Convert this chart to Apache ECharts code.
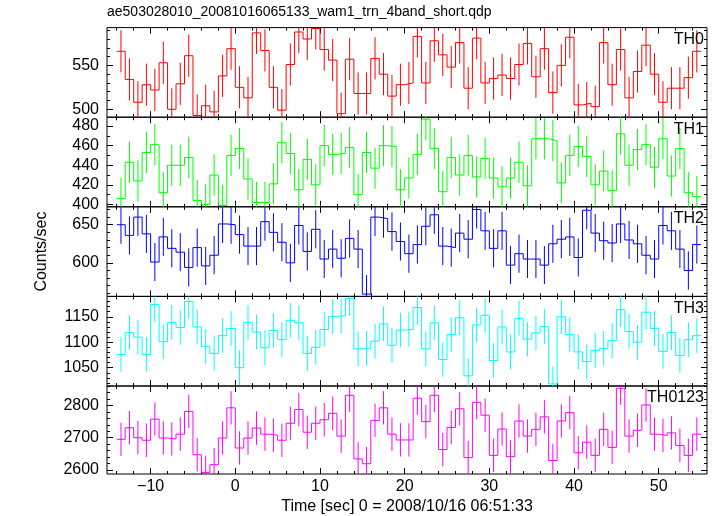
<!DOCTYPE html>
<html><head><meta charset="utf-8">
<script src="https://cdn.jsdelivr.net/npm/echarts@6/dist/echarts.min.js"></script>
<style>html,body{margin:0;padding:0;background:#fff}#c{width:717px;height:516px}</style>
</head><body><div id="c"></div>
<script>
const TITLE = 'ae503028010_20081016065133_wam1_trn_4band_short.qdp';
const X_NAME = 'Time [sec] 0 = 2008/10/16 06:51:33';
const Y_NAME = 'Counts/sec';
const panelNames = ['TH0', 'TH1', 'TH2', 'TH3', 'TH0123'];
const BIN_START = -14;
const BIN_WIDTH = 1;

const th0 = [566,534,508,528,522,553,500,529,561,493,504,497,538,569,525,513,587,567,525,499,551,588,580,592,568,556,495,557,518,518,558,540,515,528,530,
  583,530,578,562,548,576,524,581,530,535,539,535,551,575,537,569,519,550,582,505,507,503,576,528,568,513,543,573,540,508,524,524,536,566];
const th1 = [406,443,424,453,461,412,440,440,448,404,400,430,399,450,457,426,402,402,421,463,452,415,446,420,460,451,452,458,410,453,437,460,459,415,427,
  451,487,457,413,448,430,450,428,447,427,418,427,443,419,467,467,465,422,450,459,449,420,434,414,472,440,456,461,438,467,429,457,412,408];
const th2 = [650,636,660,638,601,634,619,614,594,620,596,610,651,650,637,622,622,654,640,627,600,649,615,644,605,618,606,632,618,559,660,658,641,628,612,
  624,648,663,622,620,639,631,670,642,619,642,597,612,605,605,597,625,631,634,607,669,639,629,626,651,630,625,610,605,649,642,618,590,624];
const th3 = [1076,1119,1110,1076,1174,1101,1139,1129,1180,1130,1092,1078,1113,1127,1050,1139,1120,1089,1123,1105,1143,1138,1078,1090,1125,1151,1152,1186,1087,1088,1102,1136,1094,1124,1125,
  1168,1087,1138,1066,1115,1148,1034,1134,1153,1064,1130,1081,1147,1106,1118,1131,1018,1150,1115,1081,1062,1084,1088,1103,1164,1121,1100,1159,1127,1082,1119,1074,1105,1113];
const th0123 = [2695,2731,2700,2692,2758,2699,2696,2711,2782,2647,2592,2616,2699,2793,2668,2699,2730,2711,2708,2692,2745,2788,2717,2745,2756,2776,2705,2832,2634,2619,2754,2793,2711,2693,2693,
  2823,2750,2832,2663,2732,2790,2638,2810,2770,2645,2727,2641,2752,2705,2726,2765,2629,2752,2778,2653,2686,2645,2726,2670,2854,2705,2723,2802,2711,2707,2715,2676,2645,2711];
const errHalf = [24, 21, 25, 34, 52];

const xMajorTicks = [-10, 0, 10, 20, 30, 40, 50];
const yMajorTicks = [[500, 550], [400, 420, 440, 460, 480], [600, 650], [1050, 1100, 1150], [2600, 2700, 2800]];
const yMinorStep = [10, 10, 10, 10, 20];
const xMinorStep = 2;

const panelData = [th0, th1, th2, th3, th0123];
const colors = ['#ff0000', '#00ff00', '#0000ff', '#00ffff', '#ff00ff'];
const yRanges = [[491, 593], [397.6, 489], [556, 673.5], [1014, 1190], [2587, 2861]];
const X_MIN = -15.15, X_MAX = 55.7;
const GRID_LEFT = 107, GRID_RIGHT = 10, GRID_TOP = 27.6, PANEL_H = 89.6;
const FONT = '"Liberation Sans", Arial, Helvetica, sans-serif';

function ticksFrom(lo, hi, step) {
  const out = [];
  for (let v = Math.ceil(lo / step) * step; v <= hi + 1e-9; v += step) out.push(+v.toFixed(6));
  return out;
}
const minus = v => String(v).replace('-', '\u2212');
const plain = v => String(v);
const xMinorTicks = ticksFrom(X_MIN, X_MAX, xMinorStep);

const chart = echarts.init(document.getElementById('c'), null, { renderer: 'canvas', width: 717, height: 516 });
const grids = [], xAxes = [], yAxes = [], series = [], graphics = [];

panelData.forEach((vals, i) => {
  grids.push({ left: GRID_LEFT, right: GRID_RIGHT, top: GRID_TOP + i * PANEL_H, height: PANEL_H,
    show: true, borderColor: '#000', borderWidth: 1, backgroundColor: 'transparent' });
  const tickStyle = { color: '#000', width: 1 };
  const baseX = { gridIndex: i, type: 'value', min: X_MIN, max: X_MAX, splitLine: { show: false },
    axisLine: { show: false, onZero: false } };
  const isBottom = i === panelData.length - 1;
  xAxes.push(Object.assign({}, baseX, { position: 'bottom',
    axisTick: { show: true, inside: true, length: 6, customValues: xMajorTicks, lineStyle: tickStyle },
    axisLabel: { show: isBottom, customValues: xMajorTicks, margin: 5, formatter: minus, fontSize: 16,
      fontFamily: FONT, color: '#000', hideOverlap: false },
    name: isBottom ? X_NAME : '', nameLocation: 'middle', nameGap: 25,
    nameTextStyle: { fontSize: 16, fontFamily: FONT, color: '#000' } }));
  xAxes.push(Object.assign({}, baseX, { position: 'bottom',
    axisTick: { show: true, inside: true, length: 3, customValues: xMinorTicks, lineStyle: tickStyle },
    axisLabel: { show: false } }));
  xAxes.push(Object.assign({}, baseX, { position: 'top',
    axisTick: { show: true, inside: true, length: 6, customValues: xMajorTicks, lineStyle: tickStyle },
    axisLabel: { show: false } }));
  xAxes.push(Object.assign({}, baseX, { position: 'top',
    axisTick: { show: true, inside: true, length: 3, customValues: xMinorTicks, lineStyle: tickStyle },
    axisLabel: { show: false } }));

  const [ymin, ymax] = yRanges[i];
  const yMinor = ticksFrom(ymin, ymax, yMinorStep[i]);
  const baseY = { gridIndex: i, type: 'value', min: ymin, max: ymax, splitLine: { show: false },
    axisLine: { show: false, onZero: false } };
  const isMid = i === 2;
  yAxes.push(Object.assign({}, baseY, { position: 'left',
    axisTick: { show: true, inside: true, length: 6, customValues: yMajorTicks[i], lineStyle: tickStyle },
    axisLabel: { show: true, customValues: yMajorTicks[i], margin: 8, fontSize: 16, fontFamily: FONT,
      color: '#000', hideOverlap: false, formatter: plain },
    name: isMid ? Y_NAME : '', nameLocation: 'middle', nameGap: 57, nameRotate: 90,
    nameTextStyle: { fontSize: 16, fontFamily: FONT, color: '#000' } }));
  yAxes.push(Object.assign({}, baseY, { position: 'left',
    axisTick: { show: true, inside: true, length: 3, customValues: yMinor, lineStyle: tickStyle },
    axisLabel: { show: false } }));
  yAxes.push(Object.assign({}, baseY, { position: 'right',
    axisTick: { show: true, inside: true, length: 6, customValues: yMajorTicks[i], lineStyle: tickStyle },
    axisLabel: { show: false } }));
  yAxes.push(Object.assign({}, baseY, { position: 'right',
    axisTick: { show: true, inside: true, length: 3, customValues: yMinor, lineStyle: tickStyle },
    axisLabel: { show: false } }));

  const steps = vals.map((v, k) => [BIN_START + k * BIN_WIDTH, v]);
  steps.push([BIN_START + vals.length * BIN_WIDTH, vals[vals.length - 1]]);
  series.push({ type: 'line', xAxisIndex: 4 * i, yAxisIndex: 4 * i, data: steps, step: 'end',
    symbol: 'none', showSymbol: false, clip: true, silent: true, animation: false,
    lineStyle: { color: colors[i], width: 1 } });

  const color = colors[i];
  series.push({ type: 'custom', xAxisIndex: 4 * i, yAxisIndex: 4 * i, silent: true, animation: false,
    data: vals.map((v, k) => [BIN_START + (k + 0.5) * BIN_WIDTH, v, errHalf[i]]),
    renderItem: (params, api) => {
      const x = api.value(0), y = api.value(1), e = api.value(2);
      const lo = api.coord([x, y - e]), hi = api.coord([x, y + e]);
      const cs = params.coordSys;
      const clamp = p => Math.min(Math.max(p, cs.y), cs.y + cs.height);
      return { type: 'line', shape: { x1: lo[0], y1: clamp(lo[1]), x2: hi[0], y2: clamp(hi[1]) },
        style: { stroke: color, lineWidth: 1 } };
    } });

  graphics.push({ type: 'text', right: 13, top: GRID_TOP + i * PANEL_H + 4, z: 100,
    style: { text: panelNames[i], font: '16px ' + FONT, fill: '#000' } });
});

chart.setOption({
  animation: false,
  backgroundColor: '#fff',
  title: { text: TITLE, left: 107, top: 5, padding: 0,
    textStyle: { fontSize: 14, fontWeight: 'normal', fontFamily: FONT, color: '#000' } },
  grid: grids, xAxis: xAxes, yAxis: yAxes, series: series, graphic: graphics
});
</script></body></html>
